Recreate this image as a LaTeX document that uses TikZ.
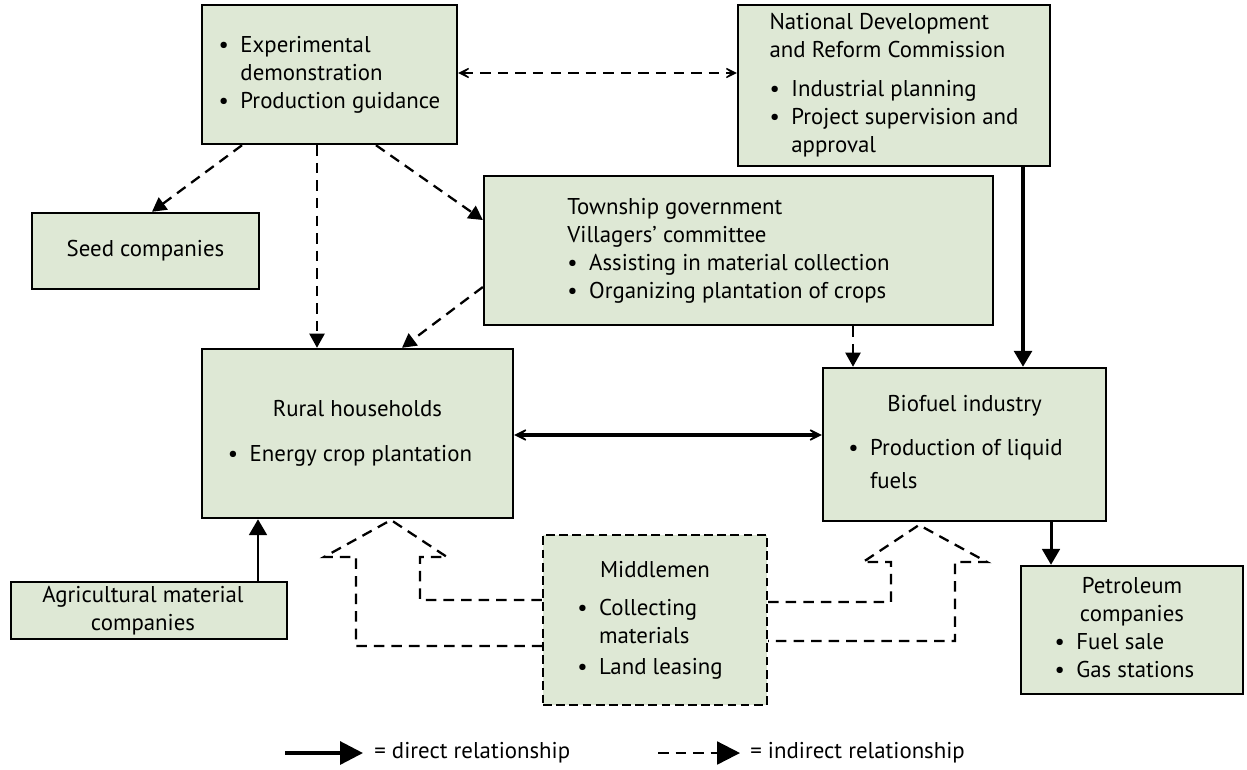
\documentclass[tikz,border=0pt]{standalone}
\usepackage{fontspec}
\setmainfont{PT Sans}
\usetikzlibrary{arrows.meta}
\definecolor{boxgreen}{HTML}{DEE8D5}

\begin{document}
\begin{tikzpicture}[x=0.02cm,y=-0.02cm,
	font=\fontsize{13}{15.9}\selectfont,
	box/.style={draw,line width=1.4pt,fill=boxgreen,inner sep=0pt},
	dbox/.style={box,line width=1.3pt,dash pattern=on 5pt off 2.5pt},
	dline/.style={line width=1.3pt,dash pattern=on 6pt off 4pt},
	tip/.style={-{Triangle[length=8pt,width=8.5pt]}},
	stip/.style={line width=1.7pt,-{Triangle[length=9pt,width=10pt]}},
	barbs/.style={{Stealth[length=10pt,width=10pt,inset=7pt]}-{Stealth[length=10pt,width=10pt,inset=7pt]}}]
	\useasboundingbox (0,0) rectangle (1247,769);

	\node[box,minimum width=5.10cm,minimum height=2.78cm] (exp) at (329.5,74.5) {\begin{tabular}{@{}l@{\hspace{0.5em}}l@{}}\textbullet & Experimental\\ & demonstration\\ \textbullet & Production guidance\end{tabular}};
	\node[box,minimum width=4.54cm,minimum height=1.52cm] (seed) at (145.5,251) {Seed companies};
	\node[box,minimum width=6.24cm,minimum height=3.22cm] (ndrc) at (894,85.5) {\begin{tabular}{@{}l@{\hspace{0.5em}}l@{}}\multicolumn{2}{@{}l@{}}{National Development}\\ \multicolumn{2}{@{}l@{}}{and Reform Commission}\\[0.22cm] \textbullet & Industrial planning\\ \textbullet & Project supervision and\\ & approval\end{tabular}};
	\node[box,minimum width=10.18cm,minimum height=2.98cm] (town) at (738.5,250.5) {\begin{tabular}{@{}l@{\hspace{0.5em}}l@{\hspace{0.4cm}}}\multicolumn{2}{@{}l@{}}{Township government}\\ \multicolumn{2}{@{}l@{}}{Villagers’ committee}\\ \textbullet & Assisting in material collection\\ \textbullet & Organizing plantation of crops\end{tabular}};
	\node[box,minimum width=6.22cm,minimum height=3.38cm] (rural) at (357.5,433.5) {\begin{tabular}{@{}l@{\hspace{0.5em}}l@{\hspace{0.3cm}}}\multicolumn{2}{@{}c@{}}{Rural households}\\[0.34cm] \textbullet & Energy crop plantation\end{tabular}};
	\node[box,minimum width=5.66cm,minimum height=3.06cm] (bio) at (964.5,444.5) {\begin{tabular}{@{}l@{\hspace{0.5em}}l@{\hspace{0.36cm}}}\multicolumn{2}{@{}c@{}}{Biofuel industry}\\[0.32cm] \textbullet & Production of liquid\\[0.1cm] & fuels\end{tabular}};
	\node[box,minimum width=5.52cm,minimum height=1.14cm] (agri) at (149,610.5) {\begin{tabular}{@{}c@{\hspace{0.24cm}}}Agricultural material\\ companies\end{tabular}};
	\node[dbox,minimum width=4.48cm,minimum height=3.40cm] (mid) at (655,620) {\begin{tabular}{@{}l@{\hspace{0.5em}}l@{\hspace{0.2cm}}}\multicolumn{2}{@{}c@{}}{Middlemen}\\[0.2cm] \textbullet & Collecting\\ & materials\\[0.06cm] \textbullet & Land leasing\end{tabular}};
	\node[box,minimum width=4.44cm,minimum height=2.56cm] (petro) at (1132,630) {\begin{tabular}{@{}l@{\hspace{0.5em}}l@{\hspace{0.3cm}}}\multicolumn{2}{@{}c@{}}{Petroleum}\\ \multicolumn{2}{@{}c@{}}{companies}\\ \textbullet & Fuel sale\\ \textbullet & Gas stations\end{tabular}};

	% indirect
	\draw[dline,barbs] (exp.east |- 0,73) -- (ndrc.west |- 0,73);
	\draw[dline,tip] (242,0 |- exp.south) -- (152,0 |- seed.north);
	\draw[dline,tip] (317,0 |- exp.south) -- (317,0 |- rural.north);
	\draw[dline,tip] (376,0 |- exp.south) -- (town.west |- 0,220);
	\draw[dline,tip] (town.west |- 0,287) -- (402,0 |- rural.north);
	\draw[dline,tip] (853,0 |- town.south) -- (853,0 |- bio.north);
	% direct
	\draw[stip,line width=2pt] (1023,0 |- ndrc.south) -- (1023,0 |- bio.north);
	\draw[line width=2.6pt,{Stealth[length=11pt,width=11pt,inset=7.5pt]}-{Stealth[length=11pt,width=11pt,inset=7.5pt]}] (rural.east |- 0,435) -- (bio.west |- 0,435);
	\draw[stip] (1051,0 |- bio.south) -- (1051,0 |- petro.north);
	\draw[stip] (258,0 |- agri.north) -- (258,0 |- rural.south);
	% middlemen
	\draw[dline] (mid.west |- 0,600) -- (420,600) -- (420,557) -- (447,557) -- (391,520) -- (324,557) -- (356,557) -- (356,646) -- (mid.west |- 0,646);
	\draw[dline] (mid.east |- 0,602) -- (891,602) -- (891,562) -- (863,562) -- (919,525) -- (987,562) -- (955,562) -- (955,641) -- (mid.east |- 0,641);

	% legend
	\coordinate (d1) at (285,753);
	\coordinate (d2) at (363,753);
	\coordinate (i1) at (658,753);
	\coordinate (i2) at (740,753);
	\draw[line width=1.8pt,-{Triangle[length=13pt,width=13pt]}] (d1) -- (d2);
	\draw[dline,-{Triangle[length=13pt,width=13pt]}] (i1) -- (i2);
	\node[anchor=west,inner sep=0pt] (dl) at (374,753) {= direct relationship};
	\node[anchor=west,inner sep=0pt] (il) at (750,753) {= indirect relationship};
\end{tikzpicture}
\end{document}
